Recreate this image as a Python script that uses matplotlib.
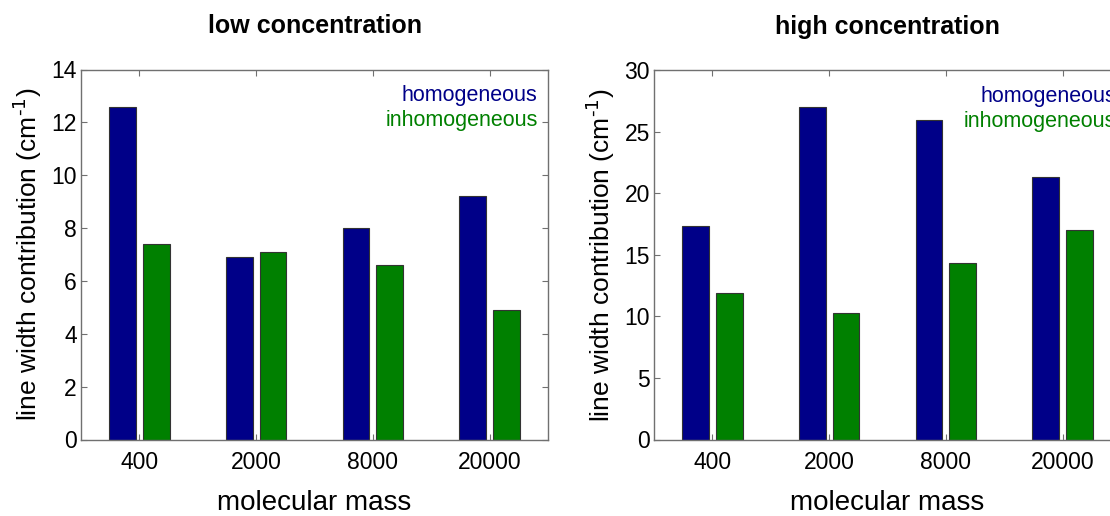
import numpy as np
from matplotlib import pyplot as plt

plt.rcParams['font.family'] = ['Liberation Sans', 'DejaVu Sans']

masses = ['400', '2000', '8000', '20000']

low_homogeneous = [12.6, 6.9, 8.0, 9.2]
low_inhomogeneous = [7.4, 7.1, 6.6, 4.9]

high_homogeneous = [17.3, 27.0, 25.9, 21.3]
high_inhomogeneous = [11.9, 10.3, 14.3, 17.0]

blue = '#000088'
green = '#008000'
spine_color = '#707070'

fig = plt.figure(figsize=(11.1, 5.16), dpi=100)

W, H = 1110, 516


def make_axes(left_px, top_px, right_px, bottom_px):
    return fig.add_axes([left_px / W, 1 - bottom_px / H,
                         (right_px - left_px) / W, (bottom_px - top_px) / H])


def draw_panel(ax, homo, inhomo, title, ymax, ystep, text_x):
    x = np.arange(1, len(masses) + 1)
    width = 0.23
    off = 0.145
    ax.bar(x - off, homo, width, color=blue, edgecolor='#333333', linewidth=0.8)
    ax.bar(x + off, inhomo, width, color=green, edgecolor='#333333', linewidth=0.8)

    ax.set_xlim(0.5, 4.5)
    ax.set_ylim(0, ymax)
    ax.set_xticks(x)
    ax.set_xticklabels(masses)
    ax.set_yticks(np.arange(0, ymax + 0.1, ystep))
    ax.tick_params(direction='in', length=4, width=0.8, color=spine_color,
                   top=True, right=True, labelsize=16.5)
    ax.tick_params(axis='x', pad=8)
    ax.tick_params(axis='y', pad=3)
    for s in ax.spines.values():
        s.set_color(spine_color)
        s.set_linewidth(1.0)

    ax.set_title(title, fontsize=18, fontweight='bold', pad=26)
    ax.set_xlabel('molecular mass', fontsize=20, labelpad=12)
    ax.set_ylabel('line width contribution (cm$^{\\text{-}1}$)', fontsize=19, labelpad=5)

    ax.text(text_x, 0.958, 'homogeneous', color=blue, fontsize=15.5,
            ha='right', va='top', transform=ax.transAxes)
    ax.text(text_x, 0.89, 'inhomogeneous', color=green, fontsize=15.5,
            ha='right', va='top', transform=ax.transAxes)


ax1 = make_axes(81, 69.5, 548, 439.5)
draw_panel(ax1, low_homogeneous, low_inhomogeneous, 'low concentration', 14, 2, 0.978)

ax2 = make_axes(654, 70, 1121, 439.5)
draw_panel(ax2, high_homogeneous, high_inhomogeneous, 'high concentration', 30, 5, 0.99)

fig.savefig('out.png', dpi=100)
